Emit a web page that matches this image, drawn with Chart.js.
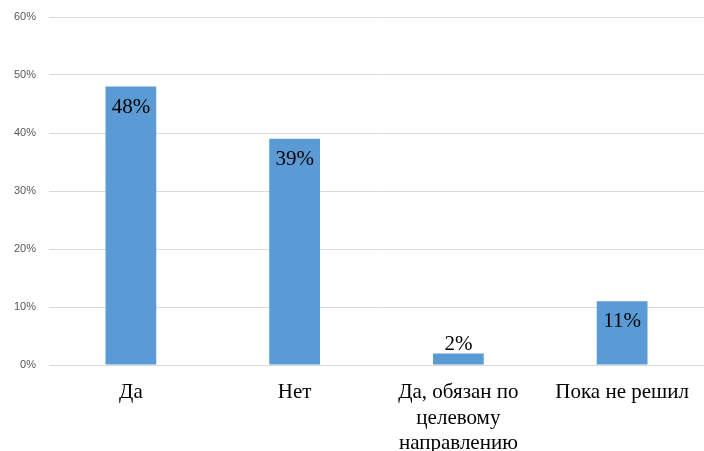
<!DOCTYPE html>
<html>
<head>
<meta charset="utf-8">
<script src="https://cdn.jsdelivr.net/npm/chart.js@4"></script>
<style>
  body { margin: 0; background: #fff; }
  #wrap { width: 704px; height: 451px; }
</style>
</head>
<body>
<div id="wrap"><canvas id="chart"></canvas></div>
<script>
const categories = ['Да', 'Нет', ['Да, обязан по', 'целевому', 'направлению'], 'Пока не решил'];
const values = [48, 39, 2, 11];
const yTicks = [0, 10, 20, 30, 40, 50, 60];

// Labels on top of the bars, inside when there is room
const barLabels = {
    id: 'barLabels',
    afterDatasetsDraw(chart) {
        const { ctx } = chart;
        const meta = chart.getDatasetMeta(0);
        ctx.save();
        ctx.font = '21px "Liberation Serif", "Times New Roman", serif';
        ctx.fillStyle = '#000';
        ctx.textAlign = 'center';
        meta.data.forEach((bar, i) => {
            const h = bar.base - bar.y;
            if (h < 30) {
                ctx.textBaseline = 'bottom';
                ctx.fillText(values[i] + '%', bar.x, bar.y + 2);
            } else {
                ctx.textBaseline = 'top';
                ctx.fillText(values[i] + '%', bar.x, bar.y + 10);
            }
        });
        ctx.restore();
    }
};

new Chart(document.getElementById('chart'), {
    type: 'bar',
    data: {
        labels: categories,
        datasets: [{
            data: values,
            backgroundColor: '#5B9BD5',
            categoryPercentage: 1,
            barPercentage: 0.31
        }]
    },
    options: {
        responsive: true,
        maintainAspectRatio: false,
        animation: false,
        layout: { padding: { top: 17, right: -4, left: 0, bottom: 0 } },
        plugins: { legend: { display: false }, tooltip: { enabled: false } },
        scales: {
            x: {
                grid: { display: false },
                border: { color: '#D9D9D9' },
                ticks: {
                    color: '#000',
                    padding: 7,
                    maxRotation: 0,
                    font: { family: '"Liberation Serif", "Times New Roman", serif', size: 21, lineHeight: 1.21 }
                },
                afterFit(scale) { scale.height = 86; }
            },
            y: {
                min: 0,
                max: 60,
                afterBuildTicks(scale) { scale.ticks = yTicks.map(v => ({ value: v })); },
                grid: { color: '#D9D9D9', drawTicks: false },
                border: { display: false },
                ticks: {
                    color: '#595959',
                    padding: 13,
                    font: { family: '"Liberation Sans", Arial, sans-serif', size: 11 },
                    callback: v => v + '%'
                },
                afterFit(scale) {
                    scale.width = 49;
                    scale.paddingTop = 0;
                }
            }
        }
    },
    plugins: [barLabels]
});
</script>
</body>
</html>
